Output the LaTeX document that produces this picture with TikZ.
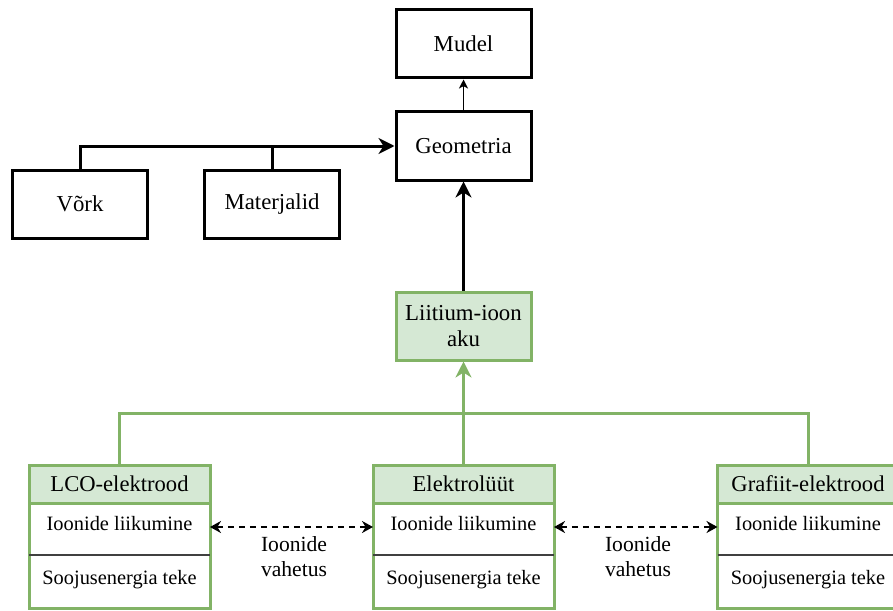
\documentclass[tikz,border=0pt]{standalone}
\usepackage{fontspec}
\setmainfont{Liberation Serif}
\usepackage{tikz}
\usetikzlibrary{arrows.meta}

\definecolor{akufill}{HTML}{D5E8D4}
\definecolor{akuline}{HTML}{82B366}
\definecolor{rowline}{HTML}{404040}

\begin{document}
\begin{tikzpicture}[x=0.5pt,y=-0.5pt,
    box/.style={draw,line width=1.5pt,minimum width=67.5pt,minimum height=34pt,
      align=center,font=\fontsize{11.4}{13}\selectfont},
    greenbox/.style={box,draw=akuline,fill=akufill},
    head/.style={draw=akuline,fill=akufill,line width=1.5pt,minimum width=90.5pt,
      minimum height=19pt,inner sep=0pt,font=\fontsize{11.3}{13}\selectfont},
    rowtext/.style={inner sep=0pt,font=\fontsize{10.2}{12}\selectfont},
    bigtip/.style={-{Stealth[length=8pt,width=8pt,inset=2.5pt]}},
    link/.style={line width=1.5pt,bigtip},
    swap/.style={line width=1.1pt,dash pattern=on 3pt off 2.5pt,
      {Stealth[length=5.5pt,width=6pt,inset=1.8pt]}-{Stealth[length=5.5pt,width=6pt,inset=1.8pt]}}]
       \clip (0,0) rectangle (893,610);
       % upper part
       \node[box] (mudel) at (463.5,44) {Mudel};
       \node[box] (geom)  at (463.5,146) {Geometria};
       \node[box] (vork)  at (80,204) {Võrk};
       \node[box] (mat)   at (272,204) {Materjalid};
       \node[greenbox] (aku) at (463.5,326) {Liitium-ioon\\aku};
       \draw[link] (vork.north) |- (geom.west);
       \draw[line width=1.5pt] (mat.north) -- (mat.north |- geom.west);
       \draw[line width=0.6pt,-{Stealth[length=4.5pt,width=4.5pt,inset=1.2pt]}] (geom.north) -- (mudel.south);
       \draw[link] (aku.north) -- (geom.south);
       % lower part: three boxes with a header and two rows
       \foreach \nm/\cx/\ttl in {lco/119.5/LCO-elektrood,el/463.5/Elektrolüüt,graf/808/Grafiit-elektrood}{
         \draw[akuline,line width=1.5pt] (\cx-90.5,503) rectangle (\cx+90.5,608);
         \draw[rowline,line width=0.8pt] (\cx-90.5,555) -- (\cx+90.5,555);
         \node[head] (\nm) at (\cx,484) {\ttl};
         \node[rowtext] (\nm A) at (\cx,524) {Ioonide liikumine};
         \node[rowtext] (\nm B) at (\cx,580) {Soojusenergia teke};
         \coordinate (\nm L) at (\cx-90.5,527);
         \coordinate (\nm R) at (\cx+90.5,527);
       }
       \coordinate (bus) at (463.5,413);
       \draw[akuline,line width=1.5pt] (lco.north) -- (lco.north |- bus)
         -- (graf.north |- bus) -- (graf.north);
       \draw[akuline,line width=1.5pt,bigtip] (el.north) -- (aku.south);
       \draw[swap] (lcoR) -- (elL);
       \draw[swap] (elR) -- (grafL);
       \node[align=center,font=\fontsize{10.8}{12.5}\selectfont] (lab1) at (294,557) {Ioonide\\vahetus};
       \node[align=center,font=\fontsize{10.8}{12.5}\selectfont] (lab2) at (638,557) {Ioonide\\vahetus};
      \end{tikzpicture}
\end{document}
